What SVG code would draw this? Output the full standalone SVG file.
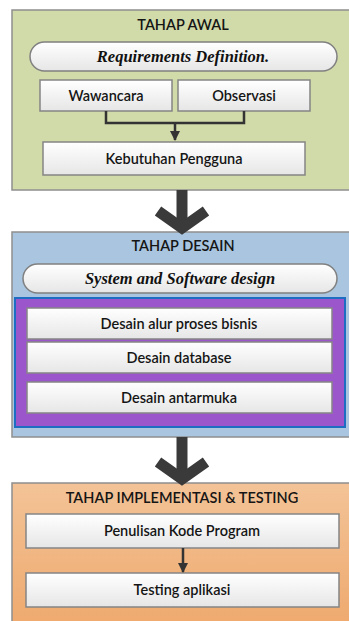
<svg xmlns="http://www.w3.org/2000/svg" width="349" height="621" viewBox="0 0 349 621">
<defs>
<linearGradient id="boxg" x1="0" y1="0" x2="0" y2="1">
<stop offset="0" stop-color="#ffffff"/>
<stop offset="1" stop-color="#e6e6e6"/>
</linearGradient>
<linearGradient id="orng" x1="0" y1="0" x2="0" y2="1">
<stop offset="0" stop-color="#f3c397"/>
<stop offset="1" stop-color="#eea86c"/>
</linearGradient>
<marker id="ah" viewBox="0 0 10 10" refX="9" refY="5" markerWidth="4" markerHeight="4" orient="auto" markerUnits="strokeWidth">
<path d="M0,0 L10,5 L0,10 z" fill="#333"/>
</marker>
</defs>
<style>
.panel{stroke:#8f8f8f;stroke-width:1.5}
.box{fill:url(#boxg);stroke:#858585;stroke-width:1.5}
.pill{fill:url(#boxg);stroke:#808080;stroke-width:1.5}
.t{font-family:Lato,"Open Sans",sans-serif;font-size:14.5px;font-weight:600;fill:#151515;text-anchor:middle}
.ti{font-family:"Liberation Serif",serif;font-weight:bold;font-style:italic;font-size:16.5px;fill:#111;text-anchor:middle}
.con{fill:none;stroke:#333;stroke-width:2.5}
.big{fill:none;stroke:#3a3a3a;stroke-width:11}
</style>

<g id="panel-awal">
<rect class="panel" x="12" y="10" width="345" height="180" fill="#d1daa9"/>
<text class="t" x="183" y="30">TAHAP AWAL</text>
</g>
<g id="req">
<rect class="pill" x="30" y="42" width="307" height="29" rx="14.5"/>
<text class="ti" x="183" y="62">Requirements Definition.</text>
</g>
<g id="wawancara">
<rect class="box" x="40" y="80" width="132" height="31"/>
<text class="t" x="106" y="101">Wawancara</text>
</g>
<g id="observasi">
<rect class="box" x="178" y="80" width="132" height="31"/>
<text class="t" x="244" y="101">Observasi</text>
</g>
<g id="kebutuhan">
<rect class="box" x="43" y="142" width="262" height="33"/>
<text class="t" x="174" y="164">Kebutuhan Pengguna</text>
</g>

<g id="panel-desain">
<rect class="panel" x="12" y="232" width="345" height="205" fill="#a9c5df"/>
<text class="t" x="183" y="251">TAHAP DESAIN</text>
</g>
<g id="sysdesign">
<rect class="pill" x="23" y="264" width="314" height="29" rx="14.5"/>
<text class="ti" x="180" y="284">System and Software design</text>
</g>
<g id="purple-area">
<rect x="15" y="298" width="330" height="129" fill="#9c56cc" stroke="#1d6dc2" stroke-width="2"/>
</g>
<g id="alur">
<rect class="box" x="27" y="308" width="305" height="31"/>
<text class="t" x="179" y="329">Desain alur proses bisnis</text>
</g>
<g id="database">
<rect class="box" x="27" y="342" width="305" height="31"/>
<text class="t" x="179" y="363">Desain database</text>
</g>
<g id="antarmuka">
<rect class="box" x="27" y="382" width="305" height="31"/>
<text class="t" x="179" y="403">Desain antarmuka</text>
</g>

<g id="panel-impl">
<rect class="panel" x="12" y="483" width="345" height="150" fill="url(#orng)"/>
<text class="t" x="182" y="503">TAHAP IMPLEMENTASI &amp; TESTING</text>
</g>
<g id="penulisan">
<rect class="box" x="26" y="514" width="313" height="34"/>
<text class="t" x="182" y="536">Penulisan Kode Program</text>
</g>
<g id="testing">
<rect class="box" x="26" y="573" width="313" height="34"/>
<text class="t" x="182" y="595">Testing aplikasi</text>
</g>

<g id="connectors">
<path class="con" d="M106,111 V123 H244 V111"/>
<path class="con" d="M175,123 V140" marker-end="url(#ah)"/>
<path class="con" d="M183,548 V572" marker-end="url(#ah)"/>
<path class="big" d="M182,190 V226"/>
<path class="big" d="M158,211 L182,228 L206,211" stroke-linejoin="miter"/>
<path class="big" d="M182,437 V477"/>
<path class="big" d="M158,462 L182,479 L206,462" stroke-linejoin="miter"/>
</g>
</svg>
